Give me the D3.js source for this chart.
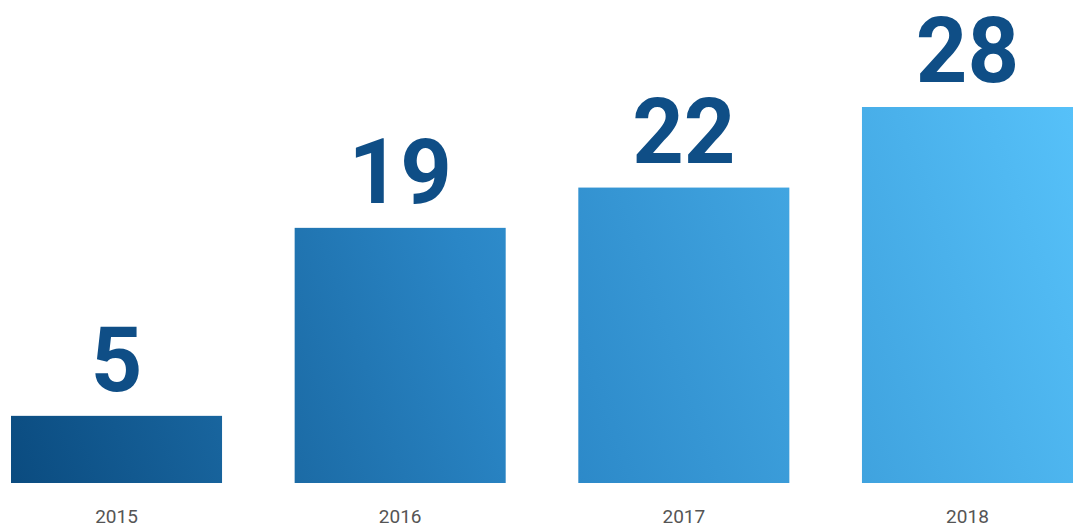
<!DOCTYPE html>
<html>
<head>
<meta charset="utf-8">
<script src="https://cdn.jsdelivr.net/npm/d3@7"></script>
<style>
  body { margin: 0; background: #fff; }
  svg { display: block; }
</style>
</head>
<body>
<svg class="bar-chart"></svg>
<script>
var years = ['2015', '2016', '2017', '2018'];
var values = [5, 19, 22, 28];

var svgWidth = 1073, svgHeight = 529;
var plotTop = 107, plotBottom = 483;

var svg = d3.select('svg.bar-chart')
    .attr('width', svgWidth)
    .attr('height', svgHeight);

var x = d3.scaleBand()
    .domain(years)
    .range([11, 1073])
    .paddingInner(0.256)
    .paddingOuter(0);

var y = d3.scaleLinear()
    .domain([0, d3.max(values)])
    .range([plotBottom, plotTop]);

// one diagonal gradient shared by all bars
var grad = svg.append('defs').append('linearGradient')
    .attr('id', 'barGrad')
    .attr('gradientUnits', 'userSpaceOnUse')
    .attr('x1', 0).attr('y1', plotBottom)
    .attr('x2', svgWidth).attr('y2', plotTop);
grad.append('stop').attr('offset', '0%').attr('stop-color', '#0a4a7e');
grad.append('stop').attr('offset', '45%').attr('stop-color', '#2a86c6');
grad.append('stop').attr('offset', '100%').attr('stop-color', '#56c1f9');

var data = years.map(function(d, i) { return { year: d, value: values[i] }; });

svg.selectAll('rect.bar')
    .data(data)
  .enter().append('rect')
    .attr('class', 'bar')
    .attr('x', function(d) { return x(d.year); })
    .attr('y', function(d) { return y(d.value); })
    .attr('width', x.bandwidth())
    .attr('height', function(d) { return plotBottom - y(d.value); })
    .attr('fill', 'url(#barGrad)');

svg.selectAll('text.value')
    .data(data)
  .enter().append('text')
    .attr('class', 'value')
    .attr('x', function(d) { return x(d.year) + x.bandwidth() / 2; })
    .attr('y', function(d) { return y(d.value) - 25; })
    .attr('text-anchor', 'middle')
    .attr('font-family', 'Roboto, sans-serif')
    .attr('font-weight', 'bold')
    .attr('font-size', 90)
    .attr('fill', '#0f4e86')
    .text(function(d) { return d.value; });

var axis = svg.append('g')
    .attr('transform', 'translate(0,' + plotBottom + ')')
    .call(d3.axisBottom(x).tickSize(0).tickPadding(27));
axis.select('.domain').remove();
axis.selectAll('text')
    .attr('font-family', 'Roboto, sans-serif')
    .attr('font-size', 19)
    .attr('fill', '#555');
</script>
</body>
</html>
